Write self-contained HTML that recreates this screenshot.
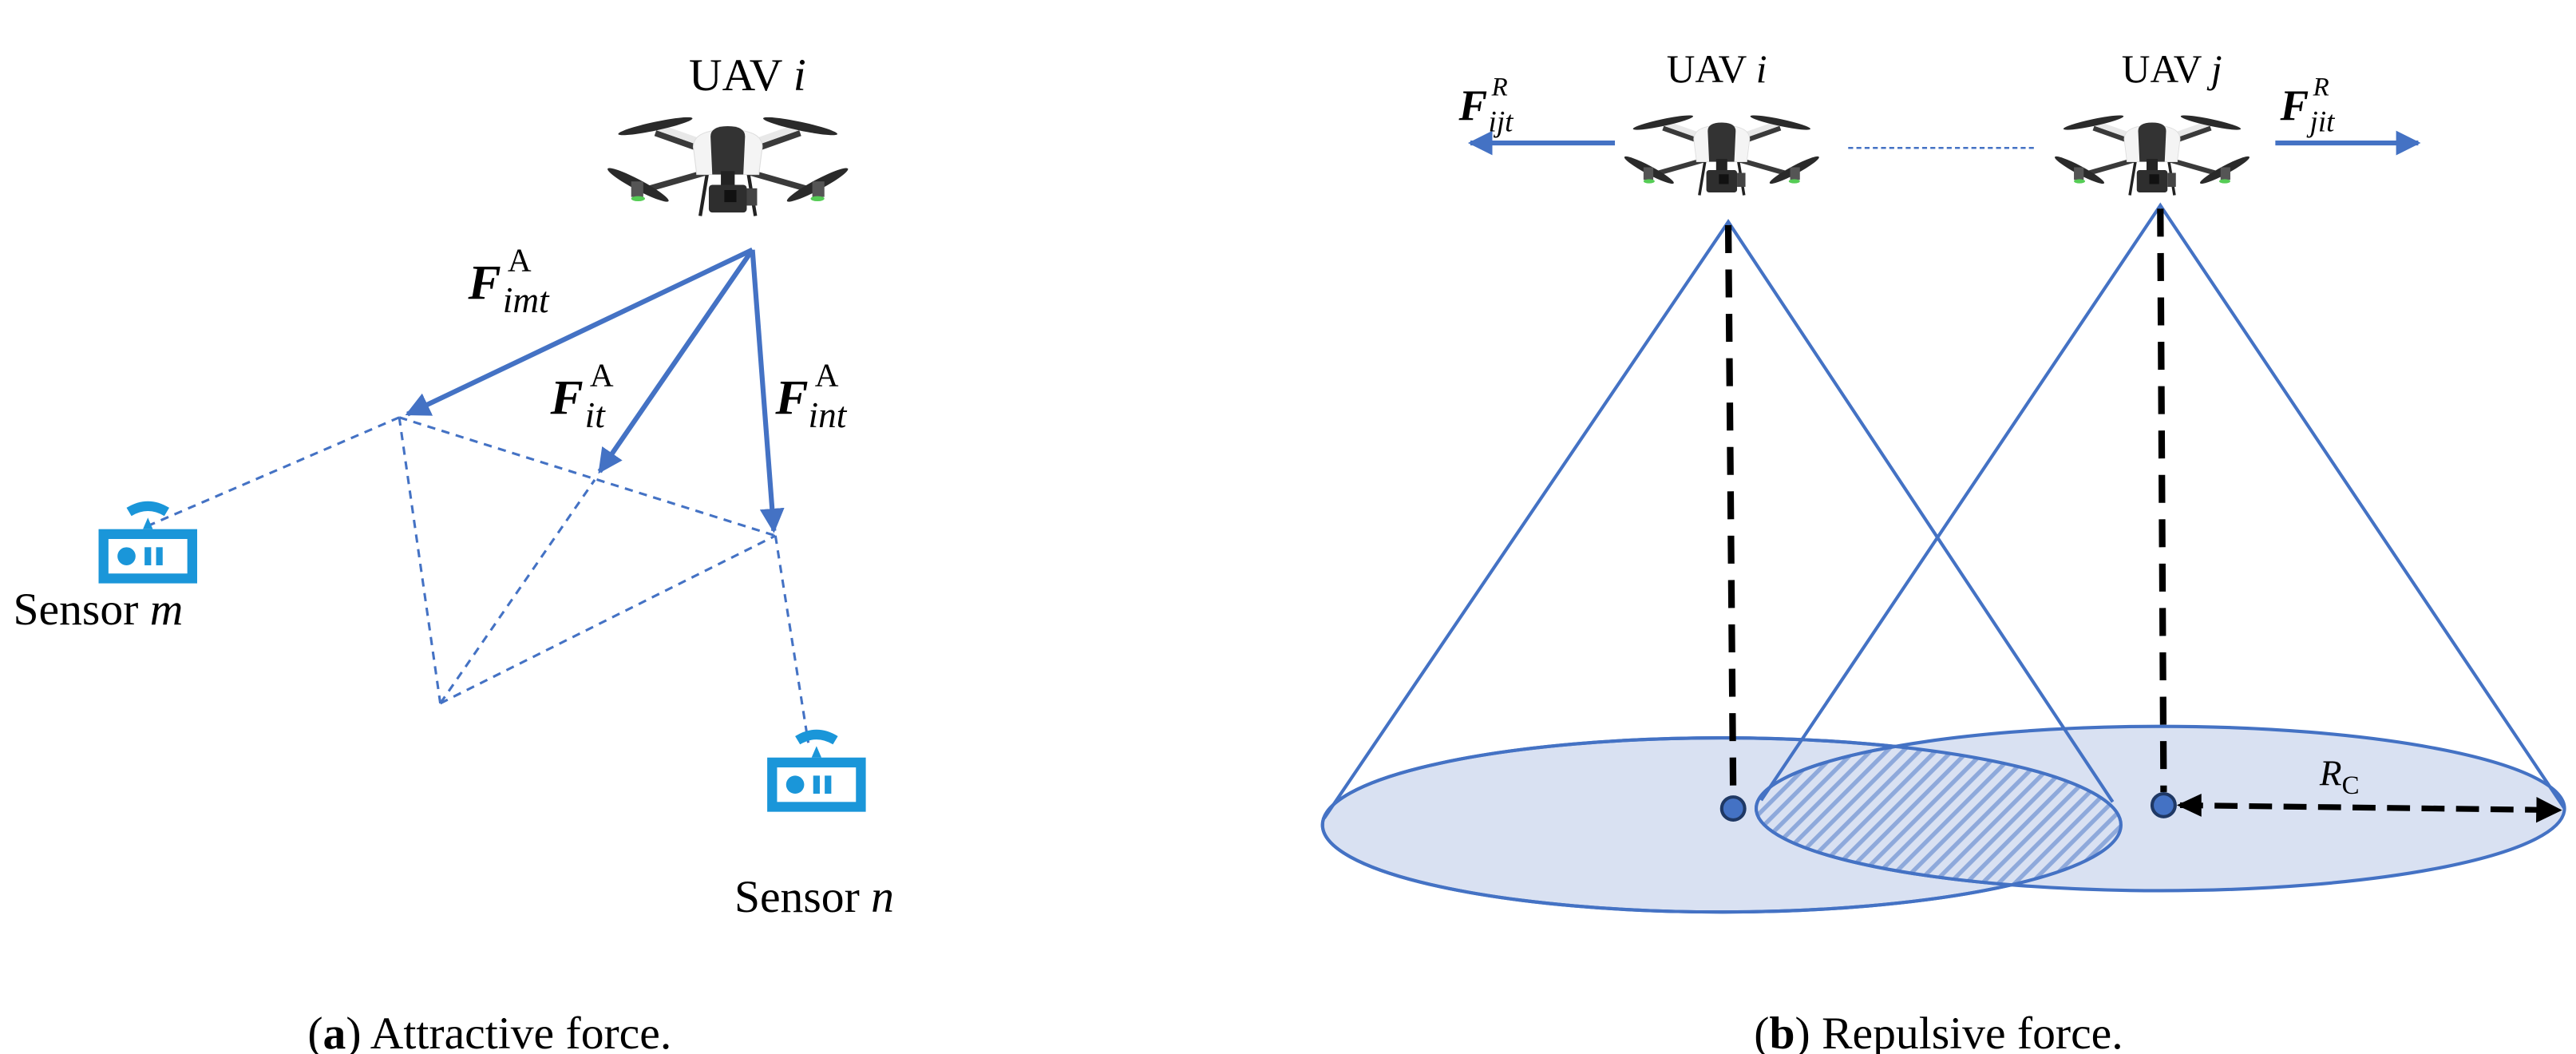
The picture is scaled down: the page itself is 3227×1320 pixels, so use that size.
<!DOCTYPE html>
<html><head><meta charset="utf-8"><style>
html,body{margin:0;padding:0;background:#fff;}
svg{display:block;}
text{font-family:"Liberation Serif",serif;fill:#000;}
</style></head><body>
<svg width="3227" height="1320" viewBox="0 0 1568 641.4" xmlns="http://www.w3.org/2000/svg">
<defs>
<g id="drone">
  <path d="M-8,-8 L-42,-20 M8,-8 L42,-20 M-10,2 L-52,14 M10,2 L52,14" stroke="#3a3a3a" stroke-width="3.5" fill="none"/>
  <path d="M-8,-12 L-42,-24 M8,-12 L42,-24" stroke="#e8e8e8" stroke-width="4" fill="none"/>
  <ellipse cx="-42" cy="-24" rx="22" ry="2.5" transform="rotate(-12 -42 -24)" fill="#2a2a2a"/>
  <ellipse cx="42" cy="-24" rx="22" ry="2.5" transform="rotate(12 42 -24)" fill="#2a2a2a"/>
  <ellipse cx="-52" cy="10" rx="20" ry="3" transform="rotate(28 -52 10)" fill="#2a2a2a"/>
  <ellipse cx="52" cy="10" rx="20" ry="3" transform="rotate(-28 52 10)" fill="#2a2a2a"/>
  <rect x="-56" y="8" width="7" height="9" fill="#555"/>
  <rect x="49" y="8" width="7" height="9" fill="#555"/>
  <ellipse cx="-52" cy="18" rx="4" ry="1.5" fill="#5c5"/>
  <ellipse cx="52" cy="18" rx="4" ry="1.5" fill="#5c5"/>
  <path d="M-12,4 L-16,28 M12,4 L16,28" stroke="#222" stroke-width="2"/>
  <path d="M-20,-12 Q-20,-22 0,-22 Q20,-22 20,-12 L18,4 L-18,4 Z" fill="#f4f4f4" stroke="#ddd" stroke-width="0.5"/>
  <path d="M-10,-18 Q-10,-24 0,-24 Q10,-24 10,-18 L9,4 L-9,4 Z" fill="#333"/>
  <rect x="-4" y="2" width="8" height="10" fill="#222"/>
  <rect x="-11" y="10" width="22" height="16" rx="2" fill="#2e2e2e"/>
  <rect x="-2" y="13" width="7" height="7" fill="#111"/>
  <rect x="11" y="12" width="6" height="10" fill="#444"/>
</g>
<g id="sensor" fill="#1a96d9">
  <path d="M-13,-30 Q0,-38 13,-30 L10,-25 Q0,-31 -10,-25 Z"/>
  <path d="M-3,-17 L0,-24 L3,-17 Z"/>
  <rect x="-30" y="-17" width="60" height="33"/>
  <rect x="-24" y="-11" width="48" height="21" fill="#fff"/>
  <circle cx="-13" cy="-0.5" r="5.5"/>
  <rect x="-2" y="-6" width="4" height="11"/>
  <rect x="5" y="-6" width="4" height="11"/>
</g>
<marker id="ah" viewBox="0 0 10 10" refX="9" refY="5" markerWidth="5" markerHeight="5" orient="auto"><path d="M0,0 L10,5 L0,10 Z" fill="#4472c4"/></marker>
<marker id="ahk" viewBox="0 0 10 10" refX="9" refY="5" markerWidth="4.5" markerHeight="4.5" orient="auto"><path d="M0,0 L10,5 L0,10 Z" fill="#000"/></marker>
<pattern id="hatch" width="7" height="7" patternUnits="userSpaceOnUse" patternTransform="rotate(45)">
  <rect width="7" height="7" fill="#d9e1f2"/>
  <rect width="2.6" height="7" fill="#8ea9db"/>
</pattern>
<clipPath id="clipI"><ellipse cx="1048" cy="502" rx="243" ry="53"/></clipPath>
</defs>

<!-- Panel (a) -->
<text x="455" y="55" font-size="28" text-anchor="middle">UAV <tspan font-style="italic">i</tspan></text>
<use href="#drone" transform="translate(443,102) scale(1.05)"/>

<g stroke="#4472c4" stroke-width="1.5" stroke-dasharray="5,4" fill="none">
  <line x1="243" y1="254" x2="90" y2="320"/>
  <line x1="243" y1="254" x2="472" y2="326"/>
  <line x1="243" y1="254" x2="268" y2="428"/>
  <line x1="268" y1="428" x2="472" y2="326"/>
  <line x1="268" y1="428" x2="362" y2="292"/>
  <line x1="472" y1="326" x2="492" y2="452"/>
</g>
<g stroke="#4472c4" stroke-width="3" fill="none" marker-end="url(#ah)">
  <line x1="458" y1="152" x2="248" y2="252"/>
  <line x1="458" y1="152" x2="365" y2="287"/>
  <line x1="458" y1="152" x2="471" y2="323"/>
</g>

<text x="285" y="182" font-size="30" font-weight="bold" font-style="italic">F</text>
<text x="309" y="165" font-size="20">A</text>
<text x="306" y="190" font-size="22" font-style="italic">imt</text>
<text x="335" y="252" font-size="30" font-weight="bold" font-style="italic">F</text>
<text x="359" y="235" font-size="20">A</text>
<text x="356" y="260" font-size="22" font-style="italic">it</text>
<text x="472" y="252" font-size="30" font-weight="bold" font-style="italic">F</text>
<text x="496" y="235" font-size="20">A</text>
<text x="492" y="260" font-size="22" font-style="italic">int</text>

<use href="#sensor" transform="translate(90,339)"/>
<text x="8" y="380" font-size="28">Sensor <tspan font-style="italic">m</tspan></text>
<use href="#sensor" transform="translate(497,478)"/>
<text x="447" y="555" font-size="28">Sensor <tspan font-style="italic">n</tspan></text>

<text x="298" y="638" font-size="28" text-anchor="middle">(<tspan font-weight="bold">a</tspan>) Attractive force.</text>

<!-- Panel (b) -->
<ellipse cx="1048" cy="502" rx="243" ry="53" fill="#d9e1f2" stroke="#4472c4" stroke-width="2"/>
<ellipse cx="1315" cy="492" rx="246" ry="50" fill="#d9e1f2" stroke="#4472c4" stroke-width="2"/>
<ellipse cx="1315" cy="492" rx="246" ry="50" fill="url(#hatch)" clip-path="url(#clipI)"/>
<ellipse cx="1048" cy="502" rx="243" ry="53" fill="none" stroke="#4472c4" stroke-width="2"/>
<ellipse cx="1315" cy="492" rx="246" ry="50" fill="none" stroke="#4472c4" stroke-width="2" clip-path="url(#clipI)"/>

<g stroke="#4472c4" stroke-width="2" fill="none">
  <polyline points="806,498 1052,135 1286,488"/>
  <polyline points="1072,487 1315,125 1561,492"/>
</g>

<g stroke="#000" stroke-width="4" stroke-dasharray="17,10" fill="none">
  <line x1="1052" y1="137" x2="1055" y2="485"/>
  <line x1="1315" y1="127" x2="1317" y2="482"/>
</g>
<circle cx="1055" cy="492" r="7" fill="#4472c4" stroke="#1f3864" stroke-width="2"/>
<circle cx="1317" cy="490" r="7" fill="#4472c4" stroke="#1f3864" stroke-width="2"/>
<line x1="1327" y1="490" x2="1558" y2="493" stroke="#000" stroke-width="3.5" stroke-dasharray="14,7" marker-end="url(#ahk)"/>
<path d="M1325,490 L1340,483 L1340,497 Z" fill="#000"/>
<text x="1412" y="478" font-size="22" font-style="italic">R<tspan font-size="16" font-style="normal" dy="5">C</tspan></text>

<line x1="1125" y1="90" x2="1240" y2="90" stroke="#4472c4" stroke-width="1.2" stroke-dasharray="3,2"/>
<use href="#drone" transform="translate(1048,95) scale(0.85)"/>
<use href="#drone" transform="translate(1310,95) scale(0.85)"/>
<text x="1045" y="50" font-size="24" text-anchor="middle">UAV <tspan font-style="italic">i</tspan></text>
<text x="1322" y="50" font-size="24" text-anchor="middle">UAV <tspan font-style="italic">j</tspan></text>

<line x1="983" y1="87" x2="895" y2="87" stroke="#4472c4" stroke-width="3" marker-end="url(#ah)"/>
<line x1="1385" y1="87" x2="1472" y2="87" stroke="#4472c4" stroke-width="3" marker-end="url(#ah)"/>
<text x="888" y="73" font-size="26" font-weight="bold" font-style="italic">F</text>
<text x="908" y="58" font-size="16" font-style="italic">R</text>
<text x="906" y="80" font-size="18" font-style="italic">ijt</text>
<text x="1388" y="73" font-size="26" font-weight="bold" font-style="italic">F</text>
<text x="1408" y="58" font-size="16" font-style="italic">R</text>
<text x="1406" y="80" font-size="18" font-style="italic">jit</text>

<text x="1180" y="638" font-size="28" text-anchor="middle">(<tspan font-weight="bold">b</tspan>) Repulsive force.</text>
</svg>
</body></html>
